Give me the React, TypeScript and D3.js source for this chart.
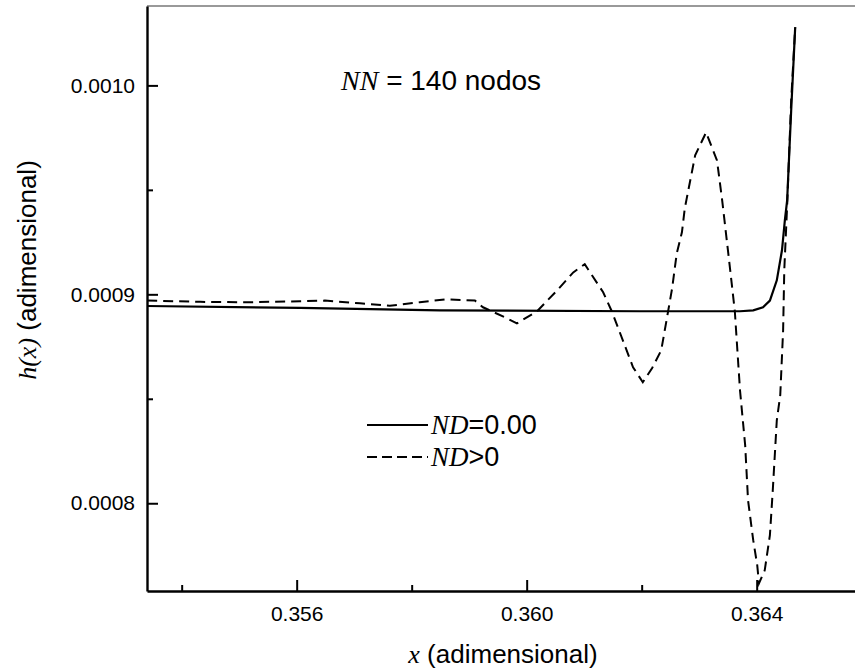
import {useEffect, useRef} from "react";
import * as d3 from "d3";

// ND = 0.00 (solid)
const solidX = [0.35340, 0.35606, 0.35849, 0.36197, 0.36371, 0.36394, 0.36411, 0.36423, 0.36435, 0.36444, 0.36449, 0.36453, 0.36460, 0.36467];
const solidY = [0.0008944, 0.0008935, 0.0008923, 0.0008919, 0.0008919, 0.0008923, 0.0008938, 0.0008970, 0.0009067, 0.0009211, 0.0009354, 0.0009450, 0.0009880, 0.0010278];

// ND > 0 (dashed)
const dashX = [0.35340, 0.35432, 0.35519, 0.35606, 0.35649, 0.35710, 0.35762, 0.35814, 0.35858, 0.35910, 0.35924, 0.35966, 0.35983, 0.36018, 0.36053, 0.36081, 0.36101, 0.36133, 0.36148, 0.36185, 0.36202, 0.36218, 0.36234, 0.36246, 0.36253, 0.36261, 0.36270, 0.36275, 0.36293, 0.36312, 0.36331, 0.36340, 0.36354, 0.36362, 0.36371, 0.36380, 0.36385, 0.36394, 0.36401, 0.36404, 0.36414, 0.36423, 0.36428, 0.36435, 0.36441, 0.36446, 0.36448, 0.36453, 0.36460, 0.36467];
const dashY = [0.0008970, 0.0008964, 0.0008962, 0.0008967, 0.0008970, 0.0008957, 0.0008945, 0.0008962, 0.0008976, 0.0008970, 0.0008938, 0.0008885, 0.0008861, 0.0008919, 0.0009019, 0.0009105, 0.0009144, 0.0009010, 0.0008919, 0.0008651, 0.0008579, 0.0008646, 0.0008732, 0.0008919, 0.0009029, 0.0009196, 0.0009297, 0.0009412, 0.0009665, 0.0009775, 0.0009641, 0.0009450, 0.0009115, 0.0008919, 0.0008541, 0.0008277, 0.0008014, 0.0007823, 0.0007703, 0.0007617, 0.0007679, 0.0007847, 0.0008062, 0.0008397, 0.0008517, 0.0008828, 0.0009115, 0.0009426, 0.0009928, 0.0010278];

const xMajor = [0.356, 0.360, 0.364];
const xMinor = [0.354, 0.358, 0.362];
const yMajor = [0.0008, 0.0009, 0.0010];
const yMinor = [0.00085, 0.00095];

const xDomain = [0.353397, 0.36571];
const yDomain = [0.000758, 0.001038];

export default function App() {
    const svgRef = useRef<SVGSVGElement | null>(null);

    useEffect(() => {
        if (!svgRef.current) return;
        const svg = d3.select(svgRef.current);
        svg.selectAll("*").remove();

        const width = 855, height = 672;
        const margin = {top: 6, right: 0, bottom: 81, left: 147};
        const sans = "'Liberation Sans', Arial, sans-serif";
        const serif = "'Liberation Serif', 'Times New Roman', serif";

        const x = d3.scaleLinear().domain(xDomain).range([margin.left, width - margin.right]);
        const y = d3.scaleLinear().domain(yDomain).range([height - margin.bottom, margin.top]);

        // top frame line
        svg.append("line")
            .attr("x1", margin.left).attr("x2", width)
            .attr("y1", margin.top).attr("y2", margin.top)
            .attr("stroke", "#777").attr("stroke-width", 1.5);

        // curves
        const solid = solidX.map((v, i) => [v, solidY[i]] as [number, number]);
        const dashed = dashX.map((v, i) => [v, dashY[i]] as [number, number]);
        const line = d3.line<[number, number]>().x(d => x(d[0])).y(d => y(d[1]));

        svg.append("path").datum(dashed)
            .attr("d", line).attr("fill", "none").attr("stroke", "#000")
            .attr("stroke-width", 2).attr("stroke-dasharray", "10,6");
        svg.append("path").datum(solid)
            .attr("d", line).attr("fill", "none").attr("stroke", "#000")
            .attr("stroke-width", 2.2);

        // axes
        const bottom = height - margin.bottom;
        const xAxis = svg.append("g").attr("transform", `translate(0,${bottom})`)
            .call(d3.axisBottom(x).tickValues(xMajor).tickFormat(d3.format(".3f")).tickSize(-11).tickSizeOuter(0).tickPadding(15));
        svg.append("g").attr("transform", `translate(0,${bottom})`)
            .call(d3.axisBottom(x).tickValues(xMinor).tickFormat(() => "").tickSize(-6).tickSizeOuter(0))
            .select(".domain").remove();

        const yAxis = svg.append("g").attr("transform", `translate(${margin.left},0)`)
            .call(d3.axisLeft(y).tickValues(yMajor).tickFormat(d3.format(".4f")).tickSize(-11).tickSizeOuter(0).tickPadding(12));
        svg.append("g").attr("transform", `translate(${margin.left},0)`)
            .call(d3.axisLeft(y).tickValues(yMinor).tickFormat(() => "").tickSize(-6).tickSizeOuter(0))
            .select(".domain").remove();

        svg.selectAll(".domain").attr("stroke-width", 2.4);
        svg.selectAll(".tick line").attr("stroke-width", 2);
        [xAxis, yAxis].forEach(a => a.selectAll("text").style("font-family", sans).style("font-size", "21px").attr("fill", "#000"));

        // axis titles
        const xt = svg.append("text").attr("x", 503).attr("y", 663).attr("text-anchor", "middle")
            .style("font-family", sans).style("font-size", "26px");
        xt.append("tspan").text("x").style("font-family", serif).style("font-style", "italic");
        xt.append("tspan").text(" (adimensional)");

        const yt = svg.append("text").attr("transform", "translate(36,270) rotate(-90)").attr("text-anchor", "middle")
            .style("font-family", sans).style("font-size", "26px");
        yt.append("tspan").text("h(x)").style("font-family", serif).style("font-style", "italic");
        yt.append("tspan").text(" (adimensional)");

        // annotation
        const nn = svg.append("text").attr("x", 341).attr("y", 90)
            .style("font-family", sans).style("font-size", "28px");
        nn.append("tspan").text("NN").style("font-family", serif).style("font-style", "italic");
        nn.append("tspan").text(" = 140 nodos");

        // legend
        const legend = [
            {label: "=0.00", dash: null, y: 425},
            {label: ">0", dash: "10,5", y: 457},
        ];
        legend.forEach(l => {
            svg.append("line").attr("x1", 367).attr("x2", 428).attr("y1", l.y).attr("y2", l.y)
                .attr("stroke", "#000").attr("stroke-width", 2)
                .attr("stroke-dasharray", l.dash);
            const t = svg.append("text").attr("x", 431).attr("y", l.y + 9)
                .style("font-family", sans).style("font-size", "27px");
            t.append("tspan").text("ND").style("font-family", serif).style("font-style", "italic");
            t.append("tspan").text(l.label);
        });
    }, []);

    return (
        <svg ref={svgRef} width={855} height={672}
             style={{position: "absolute", left: 0, top: 0, background: "#fff"}}></svg>
    );
}
